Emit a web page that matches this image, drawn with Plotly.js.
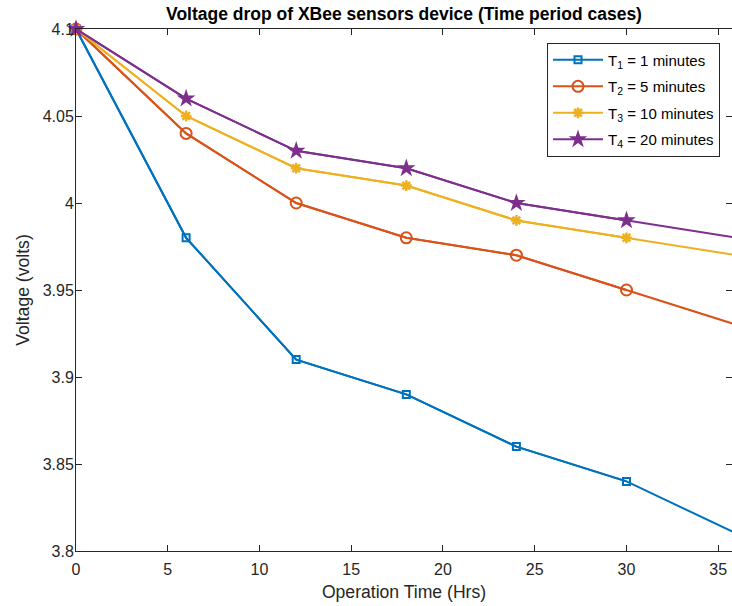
<!DOCTYPE html>
<html><head><meta charset="utf-8">
<script src="https://cdn.plot.ly/plotly-3.0.1.min.js"></script>
<style>body{margin:0;padding:0;background:#fff}#c{width:732px;height:606px}</style>
</head><body><div id="c"></div>
<script>
const hours = [0, 6, 12, 18, 24, 30, 36];
const t1 = [4.10, 3.98, 3.91, 3.89, 3.86, 3.84, 3.81];
const t2 = [4.10, 4.04, 4.00, 3.98, 3.97, 3.95, 3.93];
const t3 = [4.10, 4.05, 4.02, 4.01, 3.99, 3.98, 3.97];
const t4 = [4.10, 4.06, 4.03, 4.02, 4.00, 3.99, 3.98];
const names = ['T<sub>1</sub> = 1 minutes', 'T<sub>2</sub> = 5 minutes', 'T<sub>3</sub> = 10 minutes', 'T<sub>4</sub> = 20 minutes'];
const yTickVals = [3.8, 3.85, 3.9, 3.95, 4, 4.05, 4.1];
const yTickText = ['3.8', '3.85', '3.9', '3.95', '4', '4.05', '4.1'];
const xTickVals = [0, 5, 10, 15, 20, 25, 30, 35];

const xMax = 35.75;
const colors = ['#0072BD', '#D95319', '#EDB120', '#7E2F8E'];
const series = [t1, t2, t3, t4];
const markers = [
  {symbol: 'square-open', size: 7, lw: 2},
  {symbol: 'circle-open', size: 11, lw: 2},
  {symbol: 'asterisk-open', size: 9, lw: 2.5},
  {symbol: 'star', size: 14, lw: 0}
];
const traces = [];
series.forEach((s, i) => {
  traces.push({x: hours, y: s, type: 'scatter', mode: 'lines', showlegend: false, hoverinfo: 'skip',
    line: {color: colors[i], width: 2}});
});
series.forEach((s, i) => {
  const idx = hours.map((h, k) => k).filter(k => hours[k] <= xMax);
  traces.push({x: idx.map(k => hours[k]), y: idx.map(k => s[k]), name: names[i], type: 'scatter', mode: 'lines+markers',
    legendgroup: 'g' + i,
    line: {color: colors[i], width: 2},
    marker: {symbol: markers[i].symbol, size: markers[i].size, color: colors[i], line: {color: colors[i], width: markers[i].lw}},
    cliponaxis: false});
});

const layout = {
  width: 732, height: 606,
  margin: {l: 75.5, r: 0, t: 28.5, b: 55},
  paper_bgcolor: '#fff', plot_bgcolor: '#fff',
  font: {family: 'Liberation Sans, Arial, sans-serif', size: 16, color: '#262626'},
  title: {text: '<b>Voltage drop of XBee sensors device (Time period cases)</b>', font: {size: 17.5, color: '#000'}, x: 0.5, xref: 'paper', y: 0.977, yanchor: 'middle'},
  showlegend: true,
  legend: {x: 0.718, y: 0.974, xanchor: 'left', yanchor: 'top', bgcolor: '#fff', bordercolor: '#262626', borderwidth: 1,
    font: {size: 15, color: '#000'}, traceorder: 'grouped', tracegroupgap: 4, itemwidth: 50},
  xaxis: {
    range: [0, xMax], tickvals: xTickVals, ticks: 'inside', ticklen: 6, tickcolor: '#262626', ticklabelstandoff: 4,
    showline: true, linecolor: '#262626', linewidth: 1, mirror: 'ticks', showgrid: false, zeroline: false,
    title: {text: 'Operation Time (Hrs)', font: {size: 17.6, color: '#262626'}, standoff: 8},
    tickfont: {size: 16, color: '#262626'}
  },
  yaxis: {
    range: [3.8, 4.1], tickvals: yTickVals, ticktext: yTickText, ticks: 'inside', ticklen: 6, tickcolor: '#262626', ticklabelstandoff: -2,
    showline: true, linecolor: '#262626', linewidth: 1, mirror: 'ticks', showgrid: false, zeroline: false,
    title: {text: 'Voltage (volts)', font: {size: 17.6, color: '#262626'}, standoff: 8},
    tickfont: {size: 16, color: '#262626'}
  }
};
Plotly.newPlot('c', traces, layout, {displayModeBar: false, staticPlot: true});
</script>
</body></html>
